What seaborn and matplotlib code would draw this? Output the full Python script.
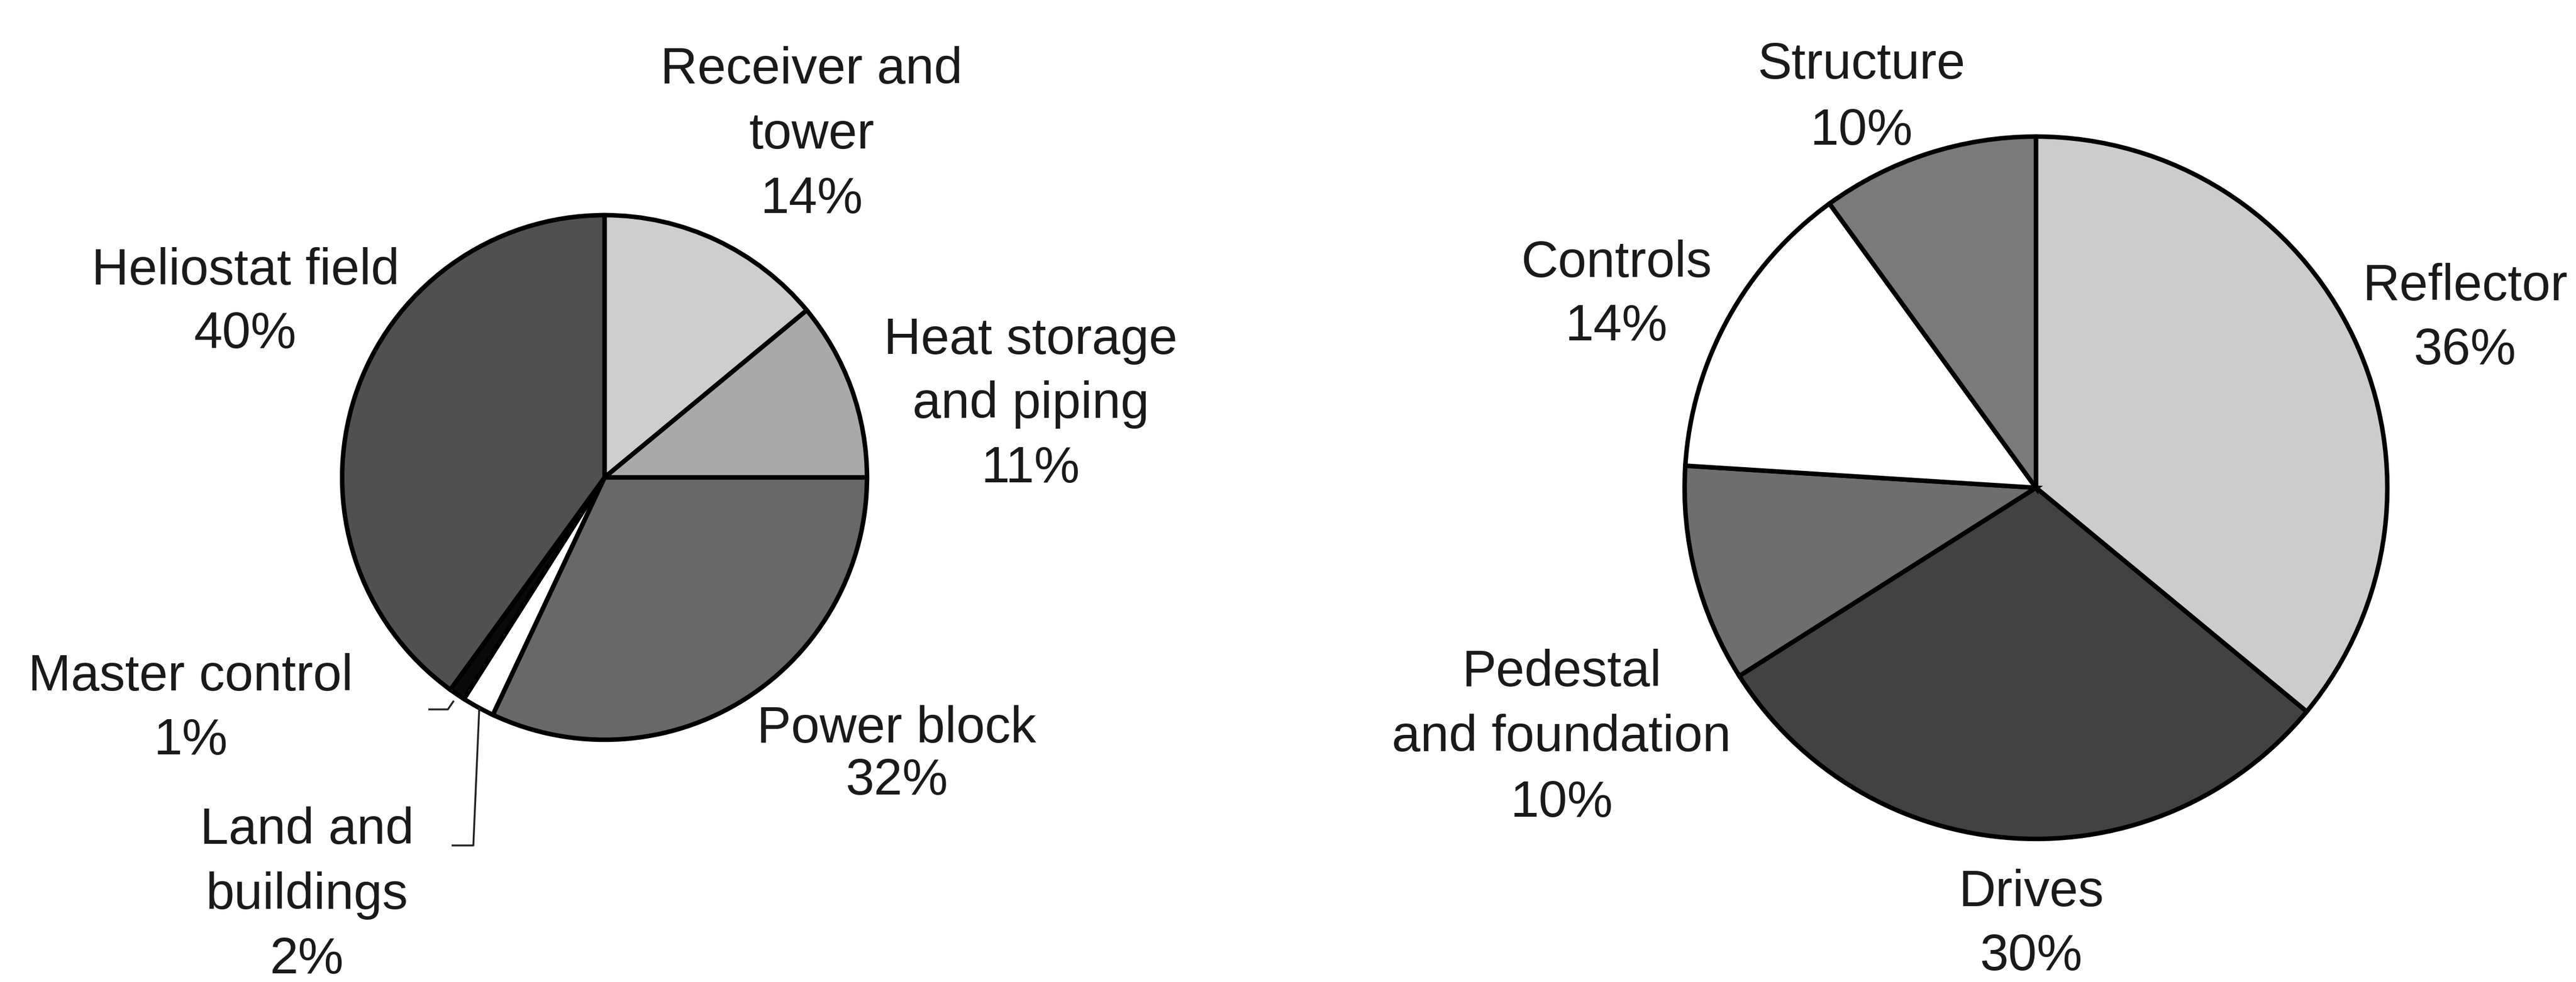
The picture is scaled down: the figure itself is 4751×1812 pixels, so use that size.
import matplotlib
matplotlib.use("Agg")
import matplotlib.pyplot as plt
import seaborn as sns

# Cost breakdown of a central-receiver plant (left) and of a heliostat (right)
plant_parts = ["Receiver and\ntower", "Heat storage\nand piping", "Power block",
               "Land and\nbuildings", "Master control", "Heliostat field"]
plant_shares = [14, 11, 32, 2, 1, 40]
plant_colors = ["#cecece", "#a9a9a9", "#686868", "#ffffff", "#0a0a0a", "#505050"]

heliostat_parts = ["Reflector", "Drives", "Pedestal\nand foundation", "Controls", "Structure"]
heliostat_shares = [36, 30, 10, 14, 10]
heliostat_colors = ["#cccccc", "#424242", "#6e6e6e", "#ffffff", "#7a7a7a"]

sns.set_theme(style="white")
plt.rcParams["font.family"] = ["Liberation Sans", "DejaVu Sans"]

W, H = 4751, 1812
fig = plt.figure(figsize=(W / 100, H / 100), dpi=100)
fig.patch.set_facecolor("white")
ax = fig.add_axes([0, 0, 1, 1])

edge = dict(edgecolor="black", linewidth=6)

ax.pie(plant_shares, colors=plant_colors, startangle=90, counterclock=False,
       center=(1115, H - 881), radius=484, wedgeprops=edge, frame=True)
ax.pie(heliostat_shares, colors=heliostat_colors, startangle=90, counterclock=False,
       center=(3755, H - 900), radius=648, wedgeprops=edge, frame=True)

ax.set_xlim(0, W)
ax.set_ylim(0, H)
ax.set_aspect("equal", adjustable="box")
ax.axis("off")

# label anchor: (x centre, baseline of the last line from the top, line spacing)
plant_pos = [(1497, 393, 1.44), (1901, 890, 1.43), (1654, 1466, 1.10),
             (566, 1796, 1.44), (352, 1392, 1.42), (453, 642, 1.40)]
heliostat_pos = [(4546, 672, 1.42), (3746, 1790, 1.42), (2880, 1507, 1.46),
                 (2981, 628, 1.40), (3433, 267, 1.48)]

text_kw = dict(ha="center", va="baseline", multialignment="center",
               fontsize=68, color="#1a1a1a")

for name, share, (x, y, ls) in zip(plant_parts, plant_shares, plant_pos):
    ax.text(x, H - y, f"{name}\n{share}%", linespacing=ls, **text_kw)
for name, share, (x, y, ls) in zip(heliostat_parts, heliostat_shares, heliostat_pos):
    ax.text(x, H - y, f"{name}\n{share}%", linespacing=ls, **text_kw)

# leader lines for the two thin slices
lead_kw = dict(color="#222222", linewidth=2.5, solid_capstyle="butt")
ax.plot([837, 826, 790], [H - 1293, H - 1309, H - 1309], **lead_kw)
ax.plot([884, 873, 833], [H - 1305, H - 1560, H - 1560], **lead_kw)

fig.savefig("out.png", dpi=100, facecolor="white")
